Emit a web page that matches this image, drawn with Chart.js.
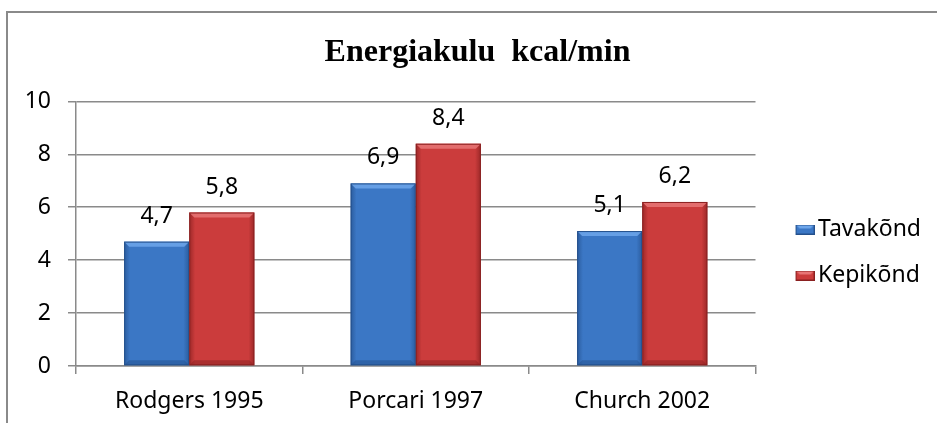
<!DOCTYPE html>
<html>
<head>
<meta charset="utf-8">
<script src="https://cdn.jsdelivr.net/npm/chart.js@4.4.1/dist/chart.umd.min.js"></script>
<style>
  html, body { margin: 0; padding: 0; background: #ffffff; }
  #c { display: block; }
</style>
</head>
<body>
<canvas id="c" width="937" height="423"></canvas>
<script>
// ---- data ----
const chartTitle = 'Energiakulu  kcal/min';
const categories = ['Rodgers 1995', 'Porcari 1997', 'Church 2002'];
const seriesNames = ['Tavakõnd', 'Kepikõnd'];
const tavakondValues = [4.7, 6.9, 5.1];
const kepikondValues = [5.8, 8.4, 6.2];
const yTickValues = [0, 2, 4, 6, 8, 10];

// ---- styles ----
const FONT = '"Noto Sans", "Open Sans", sans-serif';
const FS = 23;
const CAT_PCT = 0.575;
const palettes = [
  { dark: '#2b5c9e', mid: '#3b77c5', light: '#6ea6ea', edge: '#24508c' },
  { dark: '#9c2828', mid: '#cb3c3c', light: '#e87676', edge: '#8a2020' }
];

function barBackground(dsIndex) {
  const p = palettes[dsIndex];
  return function (context) {
    const chart = context.chart;
    const xs = chart.scales && chart.scales.x;
    if (context.type !== 'data' || !xs || !xs.width) return p.mid;
    const center = xs.getPixelForValue(context.dataIndex);
    const bw = (xs.width / categories.length) * CAT_PCT / 2;
    const left = dsIndex === 0 ? center - bw : center;
    const g = chart.ctx.createLinearGradient(left, 0, left + bw, 0);
    g.addColorStop(0, p.dark);
    g.addColorStop(0.09, p.mid);
    g.addColorStop(0.91, p.mid);
    g.addColorStop(1, p.dark);
    return g;
  };
}

function legendMarker(p) {
  const c = document.createElement('canvas');
  c.width = 44; c.height = 10;
  const x0 = 25, w = 19, h = 10;
  const ctx = c.getContext('2d');
  ctx.fillStyle = p.mid;
  ctx.fillRect(x0, 0, w, h);
  ctx.fillStyle = p.light;
  ctx.beginPath();
  ctx.moveTo(x0, 0); ctx.lineTo(x0 + w, 0); ctx.lineTo(x0 + w - 4, 4); ctx.lineTo(x0 + 4, 4);
  ctx.closePath(); ctx.fill();
  ctx.strokeStyle = p.edge; ctx.lineWidth = 1;
  ctx.strokeRect(x0 + 0.5, 0.5, w - 1, h - 1);
  return c;
}
const markers = palettes.map(legendMarker);

const frameBorder = {
  id: 'frameBorder',
  beforeDraw(chart) {
    const ctx = chart.ctx;
    ctx.save();
    ctx.strokeStyle = '#8a8a8a';
    ctx.lineWidth = 2;
    ctx.strokeRect(7, 12, chart.width + 20, chart.height + 20);
    ctx.restore();
  }
};

const barBevel = {
  id: 'barBevel',
  afterDatasetsDraw(chart) {
    const ctx = chart.ctx;
    ctx.save();
    chart.data.datasets.forEach((ds, di) => {
      const p = palettes[di];
      chart.getDatasetMeta(di).data.forEach(el => {
        const l = el.x - el.width / 2, r = el.x + el.width / 2, t = el.y, b = el.base, k = 5;
        ctx.fillStyle = p.light;
        ctx.globalAlpha = 0.85;
        ctx.beginPath();
        ctx.moveTo(l, t); ctx.lineTo(r, t); ctx.lineTo(r - k, t + k); ctx.lineTo(l + k, t + k);
        ctx.closePath(); ctx.fill();
        ctx.globalAlpha = 0.5;
        ctx.fillStyle = p.edge;
        ctx.beginPath();
        ctx.moveTo(l, b); ctx.lineTo(r, b); ctx.lineTo(r - k, b - k); ctx.lineTo(l + k, b - k);
        ctx.closePath(); ctx.fill();
        ctx.globalAlpha = 1;
        ctx.strokeStyle = p.edge;
        ctx.lineWidth = 1;
        ctx.strokeRect(l + 0.5, t + 0.5, el.width - 1, b - t - 1);
      });
    });
    ctx.restore();
  }
};

const valueLabels = {
  id: 'valueLabels',
  afterDatasetsDraw(chart) {
    const ctx = chart.ctx;
    ctx.save();
    ctx.font = FS + 'px ' + FONT;
    ctx.fillStyle = '#000000';
    ctx.textAlign = 'center';
    ctx.textBaseline = 'alphabetic';
    chart.data.datasets.forEach((ds, di) => {
      chart.getDatasetMeta(di).data.forEach((el, i) => {
        const txt = String(ds.data[i]).replace('.', ',');
        ctx.fillText(txt, el.x, el.y - 19);
      });
    });
    ctx.restore();
  }
};

const gridColor = '#8a8a8a';
const PAD_L = 24;
const PAD_B = 7;

new Chart(document.getElementById('c'), {
  type: 'bar',
  data: {
    labels: categories,
    datasets: [
      { label: seriesNames[0], data: tavakondValues, backgroundColor: barBackground(0), borderWidth: 0 },
      { label: seriesNames[1], data: kepikondValues, backgroundColor: barBackground(1), borderWidth: 0 }
    ]
  },
  options: {
    responsive: false,
    animation: false,
    devicePixelRatio: 1,
    datasets: { bar: { categoryPercentage: CAT_PCT, barPercentage: 1.0 } },
    layout: { padding: { left: PAD_L, right: 6, top: 0, bottom: PAD_B } },
    font: { family: FONT, size: FS },
    scales: {
      x: {
        grid: { display: true, drawOnChartArea: false, drawTicks: true, tickLength: 8, color: gridColor, lineWidth: 1.5, offset: true },
        border: { display: true, color: gridColor, width: 1.5 },
        ticks: { color: '#000', font: { family: FONT, size: FS }, padding: 14 },
        afterFit(scale) { scale.height = 423 - PAD_B - 366; }
      },
      y: {
        min: yTickValues[0],
        max: yTickValues[yTickValues.length - 1],
        ticks: { stepSize: yTickValues[1] - yTickValues[0], color: '#000', font: { family: FONT, size: FS }, padding: 17 },
        grid: { color: gridColor, lineWidth: 1.5, tickLength: 8, drawTicks: true },
        border: { display: true, color: gridColor, width: 1.5 },
        afterFit(scale) { scale.width = 76 - PAD_L; }
      }
    },
    plugins: {
      title: {
        display: true,
        text: chartTitle,
        color: '#000',
        font: { family: '"Liberation Serif", "Times New Roman", serif', size: 32, weight: 'bold' },
        padding: { top: 34, bottom: 29 }
      },
      legend: {
        position: 'right',
        align: 'center',
        maxWidth: 176,
        title: { display: true, text: '', font: { size: 20, lineHeight: 1.25 }, padding: 32 },
        labels: {
          color: '#000',
          font: { family: FONT, size: FS },
          usePointStyle: true,
          pointStyleWidth: 28,
          boxHeight: 10,
          padding: 23,
          generateLabels(chart) {
            return chart.data.datasets.map((ds, i) => ({
              text: ds.label,
              pointStyle: markers[i],
              fillStyle: palettes[i].mid,
              strokeStyle: palettes[i].mid,
              lineWidth: 0,
              hidden: false,
              datasetIndex: i,
              fontColor: '#000'
            }));
          }
        }
      },
      tooltip: { enabled: false }
    }
  },
  plugins: [frameBorder, barBevel, valueLabels]
});
</script>
</body>
</html>
